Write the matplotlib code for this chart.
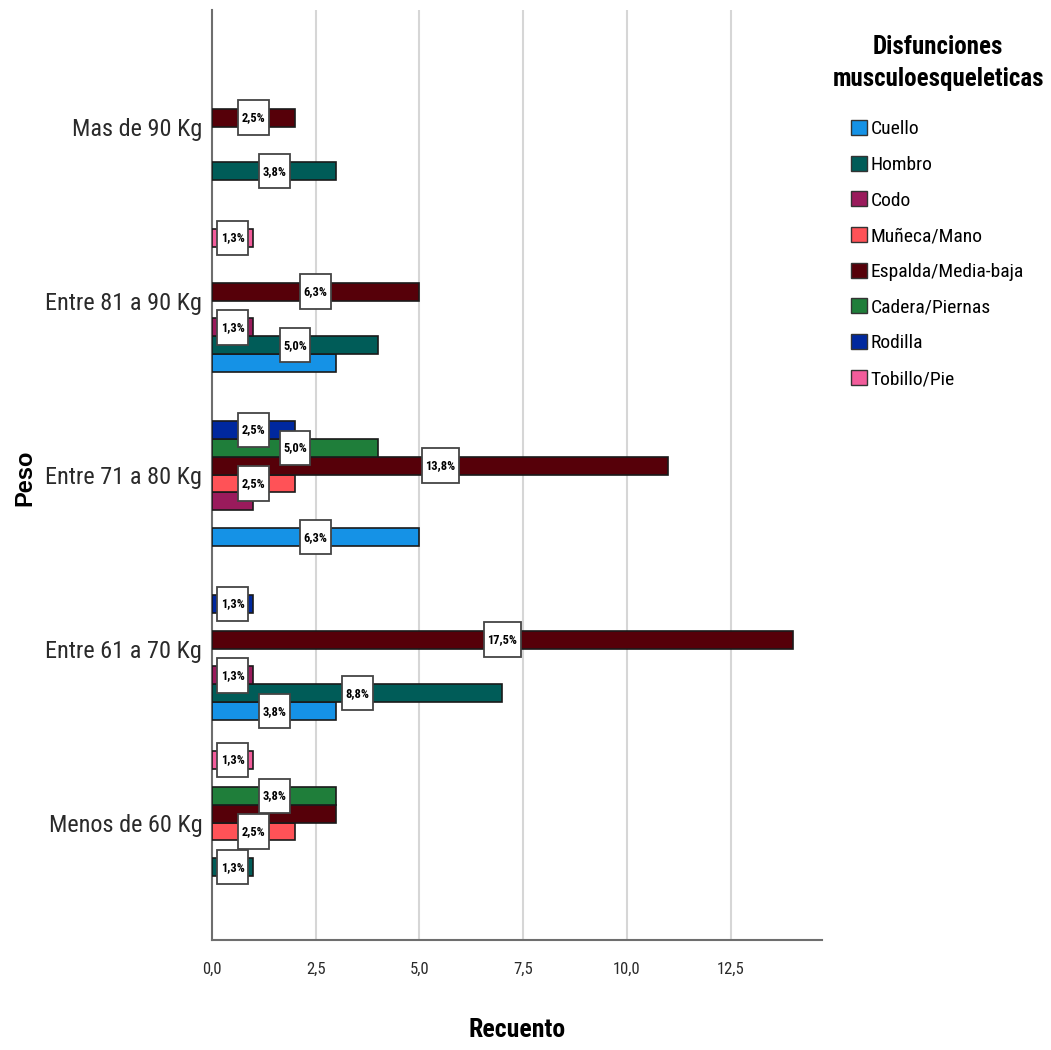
import math
import matplotlib
matplotlib.use("Agg")
import matplotlib.pyplot as plt
from matplotlib import font_manager as fm
from matplotlib.path import Path
from matplotlib.patches import Patch

# ---- data ---------------------------------------------------------------
weight_groups = ["Mas de 90 Kg", "Entre 81 a 90 Kg", "Entre 71 a 80 Kg",
                 "Entre 61 a 70 Kg", "Menos de 60 Kg"]
series_names = ["Cuello", "Hombro", "Codo", "Muñeca/Mano", "Espalda/Media-baja",
                "Cadera/Piernas", "Rodilla", "Tobillo/Pie"]
series_colors = ["#1592e6", "#005c58", "#9a1b5c", "#ff5257", "#560009",
                 "#1f7e3a", "#00289e", "#f25c9b"]

# counts per dysfunction, one value per weight group (same order as weight_groups)
cuello = [0, 3, 5, 3, 0]
hombro = [3, 4, 0, 7, 1]
codo = [0, 1, 1, 1, 0]
muneca = [0, 0, 2, 0, 2]
espalda = [2, 5, 11, 14, 3]
cadera = [0, 0, 4, 0, 3]
rodilla = [0, 0, 2, 1, 0]
tobillo = [0, 1, 0, 0, 1]
series_values = [cuello, hombro, codo, muneca, espalda, cadera, rodilla, tobillo]
total_n = 80

# percentage labels left out where they would collide with neighbours
hidden_labels = [("Entre 81 a 90 Kg", "Cuello"),
                 ("Entre 71 a 80 Kg", "Codo"),
                 ("Menos de 60 Kg", "Espalda/Media-baja")]

x_ticks = [0, 2.5, 5, 7.5, 10, 12.5]
x_tick_labels = ["0,0", "2,5", "5,0", "7,5", "10,0", "12,5"]


# ---- fonts --------------------------------------------------------------
def pick_font(*names):
    available = {f.name for f in fm.fontManager.ttflist}
    for n in names:
        if n in available:
            return n
    return "DejaVu Sans"


NARROW = pick_font("Liberation Sans Narrow", "Roboto Condensed", "Liberation Sans")
REGULAR = pick_font("Liberation Sans", "Arial", "DejaVu Sans")


def pct_text(count):
    p = math.floor(count / total_n * 1000 + 0.5) / 10
    return f"{p:.1f}".replace(".", ",") + "%"


def label_box(x0, y0, width, height, mutation_size):
    # rectangle with small side padding and taller top/bottom padding
    px = 0.28 * mutation_size
    py = 0.85 * mutation_size
    x1, y1 = x0 + width, y0 + height
    verts = [(x0 - px, y0 - py), (x1 + px, y0 - py), (x1 + px, y1 + py),
             (x0 - px, y1 + py), (x0 - px, y0 - py)]
    codes = [Path.MOVETO, Path.LINETO, Path.LINETO, Path.LINETO, Path.CLOSEPOLY]
    return Path(verts, codes)


# ---- figure -------------------------------------------------------------
W, H = 1051, 1050
fig = plt.figure(figsize=(W / 100, H / 100), dpi=100)
ax = fig.add_axes([212 / W, 1 - 940 / H, (822 - 212) / W, (940 - 10) / H])

slot = 0.1029
n_groups = len(weight_groups)
for s_idx, (name, vals, col) in enumerate(zip(series_names, series_values, series_colors)):
    for g_idx, v in enumerate(vals):
        if v == 0:
            continue
        yc = (n_groups - 1 - g_idx) + (s_idx - 3.5) * slot
        ax.barh(yc, v, height=slot, color=col, edgecolor="#1a1a1a",
                linewidth=1.2, zorder=3)
        if (weight_groups[g_idx], name) in hidden_labels:
            continue
        ax.text(v / 2, yc, pct_text(v), ha="center", va="center",
                fontsize=9, fontweight="bold", family=NARROW, color="black",
                zorder=5,
                bbox=dict(boxstyle=label_box, facecolor="white",
                          edgecolor="#444444", linewidth=1.3))

ax.set_xlim(0, 14.7)
ax.set_ylim(-0.675, 4.67)
ax.set_xticks(x_ticks)
ax.set_xticklabels(x_tick_labels, family=NARROW, fontsize=12)
ax.set_yticks(range(n_groups))
ax.set_yticklabels(weight_groups[::-1], family=NARROW, fontsize=17.5, color="#2a2a2a")
ax.tick_params(axis="x", length=0, pad=16, colors="#2a2a2a")
ax.tick_params(axis="y", length=0, pad=7)

for xv in x_ticks[1:]:
    ax.axvline(xv, color="#d6d6d6", linewidth=1.5, zorder=1)

for side in ("top", "right"):
    ax.spines[side].set_visible(False)
for side in ("left", "bottom"):
    ax.spines[side].set_color("#6e6e6e")
    ax.spines[side].set_linewidth(1.5)

fig.text(517 / W, 1 - 1030 / H, "Recuento", ha="center", va="center",
         fontsize=18.5, fontweight="bold", family=NARROW)
fig.text(25 / W, 1 - 478 / H, "Peso", ha="center", va="center", rotation=90,
         fontsize=17, fontweight="bold", family=REGULAR)

# legend
fig.text(938 / W, 1 - 63 / H, "Disfunciones\nmusculoesqueleticas", ha="center",
         va="center", fontsize=18, fontweight="bold", family=NARROW,
         linespacing=1.45)
handles = [Patch(facecolor=c, edgecolor="#333333", linewidth=1.0) for c in series_colors]
fig.legend(handles, series_names, loc="upper left",
           bbox_to_anchor=(851 / W, 1 - 120 / H), frameon=False,
           prop={"family": NARROW, "size": 14}, handlelength=0.8,
           handleheight=0.8, handletextpad=0.2, labelspacing=0.9,
           borderpad=0, borderaxespad=0)

fig.savefig("out.png", dpi=100)
